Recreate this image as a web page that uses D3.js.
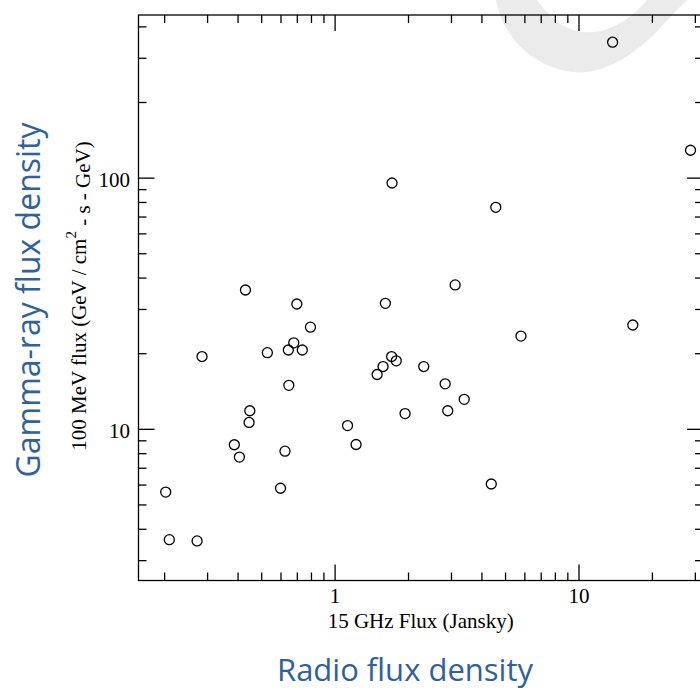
<!DOCTYPE html>
<html>
<head>
<meta charset="utf-8">
<script src="https://cdn.jsdelivr.net/npm/d3@7"></script>
<style>
  html, body { margin: 0; padding: 0; background: #fff; }
  svg { display: block; }
</style>
</head>
<body>
<div id="chart"></div>
<script>
// 15 GHz radio flux (Jy) against 100 MeV gamma-ray flux for each source
const radioFlux = [13.8, 28.8, 1.72, 4.58, 0.431, 3.12, 0.700, 1.615, 0.796, 16.7,
                   5.81, 0.680, 0.646, 0.737, 0.530, 0.286, 1.713, 1.79, 1.58, 2.32,
                   1.494, 2.84, 0.649, 3.40, 1.945, 2.91, 0.449, 0.446, 1.13, 1.225,
                   0.388, 0.407, 0.626, 0.203, 0.600, 4.39, 0.210, 0.273];
const gammaFlux = [346, 128.5, 95.2, 76.2, 35.7, 37.4, 31.4, 31.6, 25.4, 25.9,
                   23.4, 22.0, 20.6, 20.6, 20.1, 19.4, 19.4, 18.65, 17.7, 17.7,
                   16.45, 15.1, 14.9, 13.1, 11.5, 11.8, 11.8, 10.6, 10.3, 8.66,
                   8.64, 7.72, 8.15, 5.60, 5.80, 6.03, 3.62, 3.58];

// Axis extents and ticks
const xDomain = [0.157, 32.4];
const yDomain = [2.49, 444];
const xMajorTicks = [1, 10];
const xMinorTicks = [0.2, 0.3, 0.4, 0.5, 0.6, 0.7, 0.8, 0.9, 2, 3, 4, 5, 6, 7, 8, 9, 20, 30];
const yMajorTicks = [10, 100];
const yMinorTicks = [3, 4, 5, 6, 7, 8, 9, 20, 30, 40, 50, 60, 70, 80, 90, 200, 300, 400];

const W = 700, H = 690;
const plotL = 138.5, plotR = 703, plotT = 15, plotB = 580.5;
const serif = "'Liberation Serif', 'Times New Roman', serif";
const blue = "#2e6299";

const svg = d3.select("#chart").append("svg")
  .attr("width", W).attr("height", H)
  .attr("viewBox", `0 0 ${W} ${H}`);

// faint logo watermark behind the plot
svg.append("path")
  .attr("d", "M496,0 C502,30 520,52 545,64 C560,71 572,73 585,72 C612,70 640,50 660,28 C670,17 680,7 687,0 L647,0 C637,12 625,22 610,28 C600,32 590,33 582,32 C568,30 556,22 548,13 C543,8 539,3 537,0 Z")
  .attr("fill", "#ebebeb");

const x = d3.scaleLog().domain(xDomain).range([plotL, plotR]);
const y = d3.scaleLog().domain(yDomain).range([plotB, plotT]);

const MAJ = 16, MIN = 8;

function styleAxis(g) {
  g.select(".domain").remove();
  g.selectAll(".tick line").attr("stroke", "#000").attr("stroke-width", 1.3);
  g.selectAll(".tick text")
    .attr("fill", "#000")
    .style("font-family", serif)
    .style("font-size", "21px");
}

// bottom
svg.append("g").attr("transform", `translate(0,${plotB})`)
  .call(d3.axisBottom(x).tickValues(xMajorTicks).tickFormat(d3.format("d"))
    .tickSize(-MAJ).tickSizeOuter(0).tickPadding(8))
  .call(styleAxis);
svg.append("g").attr("transform", `translate(0,${plotB})`)
  .call(d3.axisBottom(x).tickValues(xMinorTicks).tickFormat("")
    .tickSize(-MIN).tickSizeOuter(0))
  .call(styleAxis);
// top
svg.append("g").attr("transform", `translate(0,${plotT})`)
  .call(d3.axisTop(x).tickValues(xMajorTicks).tickFormat("")
    .tickSize(-MAJ).tickSizeOuter(0))
  .call(styleAxis);
svg.append("g").attr("transform", `translate(0,${plotT})`)
  .call(d3.axisTop(x).tickValues(xMinorTicks).tickFormat("")
    .tickSize(-MIN).tickSizeOuter(0))
  .call(styleAxis);
// left
svg.append("g").attr("transform", `translate(${plotL},0)`)
  .call(d3.axisLeft(y).tickValues(yMajorTicks).tickFormat(d3.format("d"))
    .tickSize(-MAJ).tickSizeOuter(0).tickPadding(8.5))
  .call(styleAxis)
  .call(g => g.selectAll(".tick text").attr("dy", "0.4em"));
svg.append("g").attr("transform", `translate(${plotL},0)`)
  .call(d3.axisLeft(y).tickValues(yMinorTicks).tickFormat("")
    .tickSize(-MIN).tickSizeOuter(0))
  .call(styleAxis);
// right
svg.append("g").attr("transform", `translate(${plotR},0)`)
  .call(d3.axisRight(y).tickValues(yMajorTicks).tickFormat("")
    .tickSize(-MAJ).tickSizeOuter(0))
  .call(styleAxis);
svg.append("g").attr("transform", `translate(${plotR},0)`)
  .call(d3.axisRight(y).tickValues(yMinorTicks).tickFormat("")
    .tickSize(-MIN).tickSizeOuter(0))
  .call(styleAxis);

// plot frame
svg.append("rect")
  .attr("x", plotL).attr("y", plotT)
  .attr("width", plotR - plotL).attr("height", plotB - plotT)
  .attr("fill", "none").attr("stroke", "#000").attr("stroke-width", 1.3);

// sources
const points = radioFlux.map((r, i) => ({ r, g: gammaFlux[i] }));
svg.append("g").selectAll("circle")
  .data(points).join("circle")
  .attr("cx", d => x(d.r))
  .attr("cy", d => y(d.g))
  .attr("r", 5)
  .attr("fill", "none")
  .attr("stroke", "#000")
  .attr("stroke-width", 1.3);

// axis titles
svg.append("text")
  .attr("x", (plotL + plotR) / 2).attr("y", 627.5)
  .attr("text-anchor", "middle")
  .style("font-family", serif).style("font-size", "21px")
  .text("15 GHz Flux (Jansky)");

const yt = svg.append("text")
  .attr("transform", `translate(86,296) rotate(-90)`)
  .attr("text-anchor", "middle")
  .style("font-family", serif).style("font-size", "21px");
yt.append("tspan").text("100 MeV flux (GeV / cm");
yt.append("tspan").attr("dy", "-0.7em").style("font-size", "15px").text("2");
yt.append("tspan").attr("dy", "0.7em").text(" - s - GeV)");

// presentation captions
svg.append("text")
  .attr("transform", "translate(39.5,300) rotate(-90)")
  .attr("text-anchor", "middle")
  .style("font-family", "'Open Sans', sans-serif").style("font-size", "32px")
  .attr("fill", blue)
  .text("Gamma-ray flux density");

svg.append("text")
  .attr("x", 405).attr("y", 681)
  .attr("text-anchor", "middle")
  .style("font-family", "'Open Sans', sans-serif").style("font-size", "31px")
  .attr("fill", blue)
  .text("Radio flux density");
</script>
</body>
</html>
